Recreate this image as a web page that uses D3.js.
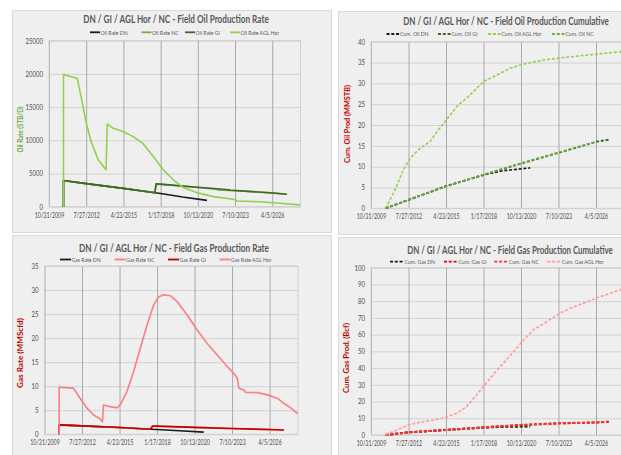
<!DOCTYPE html>
<html>
<head>
<meta charset="utf-8">
<script src="https://cdn.jsdelivr.net/npm/d3@7"></script>
<style>
  html, body { margin: 0; padding: 0; background: #fff; overflow: hidden; }
  svg { display: block; font-family: Lato, "Open Sans", "DejaVu Sans", sans-serif; }
</style>
</head>
<body>
<svg id="chart" width="621" height="455"></svg>
<script>
// ---- shared date axis (major unit 1000 days) ----
const xTickLabels = ["10/31/2009", "7/27/2012", "4/23/2015", "1/17/2018", "10/13/2020", "7/10/2023", "4/5/2026"];
const xDomainLabels = ["10/31/2009", "5/1/2028"];

// ---- y tick values ----
const oilRateTicks = [0, 5000, 10000, 15000, 20000, 25000];
const oilCumTicks = [0, 5, 10, 15, 20, 25, 30, 35, 40];
const gasRateTicks = [0, 5, 10, 15, 20, 25, 30, 35];
const gasCumTicks = [0, 10, 20, 30, 40, 50, 60, 70, 80, 90, 100];

// ---- oil rate, STB/D ----
const oilRateDN = [["2010-11-25", 0], ["2010-11-25", 3950], ["2012-07-27", 3480], ["2015-04-23", 2760], ["2017-08-20", 2100], ["2018-01-17", 1990], ["2019-09-01", 1450], ["2021-06-15", 950]];
const oilRateNC = [["2010-11-25", 0], ["2010-11-25", 3900], ["2012-07-27", 3450], ["2015-04-23", 2730], ["2017-08-01", 2120], ["2017-10-04", 3400], ["2018-01-17", 3360], ["2020-10-13", 2900], ["2022-03-01", 2650], ["2022-04-01", 2520], ["2023-07-10", 2420], ["2026-04-05", 2080], ["2027-04-30", 1880]];
const oilRateGI = [["2010-11-25", 0], ["2010-11-25", 3950], ["2012-07-27", 3480], ["2015-04-23", 2760], ["2017-08-20", 2100], ["2017-09-15", 3450], ["2018-01-17", 3400], ["2020-10-13", 2930], ["2023-02-01", 2560], ["2023-03-01", 2480], ["2023-07-10", 2440], ["2026-04-05", 2060], ["2027-04-30", 1870]];
const oilRateAGL = [["2010-11-25", 0], ["2010-11-25", 19900], ["2011-12-01", 19300], ["2012-03-28", 16100], ["2012-08-09", 12300], ["2012-12-22", 9550], ["2013-06-17", 7050], ["2014-01-10", 5550], ["2014-02-14", 12450], ["2014-07-25", 11800], ["2015-04-20", 11300], ["2016-01-14", 10550], ["2016-10-10", 9450], ["2017-07-05", 7550], ["2018-03-31", 5550], ["2018-12-24", 4050], ["2019-09-19", 2880], ["2020-09-13", 2120], ["2021-12-04", 1520], ["2023-05-25", 1120], ["2023-08-06", 1020], ["2023-09-01", 860], ["2025-05-12", 750], ["2026-11-01", 520], ["2028-04-21", 270]];

// ---- cumulative oil, MMSTB ----
const oilCumDN = [["2010-11-25", 0], ["2012-07-22", 2.0], ["2015-04-19", 5.3], ["2018-01-12", 8.0], ["2019-06-01", 9.0], ["2021-06-15", 9.7]];
const oilCumGI = [["2010-11-25", 0], ["2012-07-22", 2.0], ["2015-04-19", 5.3], ["2018-01-12", 8.0], ["2020-11-01", 10.8], ["2023-07-05", 13.3], ["2026-04-24", 16.0], ["2027-04-01", 16.5]];
const oilCumAGL = [["2010-11-25", 0], ["2011-08-01", 4.4], ["2012-03-10", 9.2], ["2012-09-05", 12.0], ["2013-05-30", 14.4], ["2014-02-20", 16.0], ["2014-09-30", 18.8], ["2015-03-27", 20.8], ["2016-02-02", 24.4], ["2017-01-22", 27.2], ["2018-01-12", 30.4], ["2019-01-05", 32.0], ["2019-12-25", 33.6], ["2020-12-13", 34.6], ["2022-06-01", 35.6], ["2023-11-15", 36.2], ["2026-04-24", 37.0], ["2028-01-06", 37.6], ["2028-05-01", 37.7]];
const oilCumNC = [["2010-11-25", 0], ["2012-07-22", 2.0], ["2015-04-19", 5.2], ["2018-01-12", 8.1], ["2020-11-01", 10.9], ["2023-07-05", 13.4], ["2026-03-01", 15.9]];

// ---- gas rate, MMScfd ----
const gasRateDN = [["2010-11-25", 0], ["2010-11-25", 1.95], ["2012-07-27", 1.75], ["2015-04-23", 1.4], ["2017-08-01", 1.05], ["2018-01-17", 1.0], ["2019-09-01", 0.75], ["2021-06-15", 0.45]];
const gasRateNC = [["2010-11-25", 0], ["2010-11-25", 1.9], ["2012-07-27", 1.72], ["2015-04-23", 1.38], ["2017-07-15", 1.05], ["2017-09-01", 1.68], ["2018-01-17", 1.68], ["2020-10-13", 1.43], ["2023-07-10", 1.18], ["2026-04-05", 0.98], ["2027-04-25", 0.9]];
const gasRateGI = [["2010-11-25", 0], ["2010-11-25", 1.95], ["2012-07-27", 1.75], ["2015-04-23", 1.4], ["2017-08-01", 1.05], ["2017-09-20", 1.72], ["2018-01-17", 1.7], ["2020-10-13", 1.45], ["2023-07-10", 1.2], ["2026-04-05", 1.0], ["2027-04-25", 0.9]];
const gasRateAGL = [["2010-11-25", 0], ["2010-11-25", 9.8], ["2011-12-10", 9.6], ["2012-06-06", 7.5], ["2012-12-02", 5.5], ["2013-05-28", 4.0], ["2013-11-23", 3.2], ["2014-01-23", 2.6], ["2014-02-19", 6.1], ["2014-08-17", 5.75], ["2015-02-12", 5.5], ["2015-05-12", 6.1], ["2015-11-07", 8.9], ["2016-05-01", 13.0], ["2016-10-27", 17.9], ["2017-04-25", 22.7], ["2017-10-18", 26.9], ["2018-03-01", 28.6], ["2018-07-13", 29.0], ["2019-01-09", 28.8], ["2019-07-07", 27.6], ["2020-03-29", 24.8], ["2020-12-22", 21.7], ["2021-09-15", 18.9], ["2022-06-09", 16.5], ["2023-03-04", 14.1], ["2023-10-12", 12.2], ["2023-11-26", 11.6], ["2024-01-08", 9.6], ["2024-05-21", 9.2], ["2024-07-05", 8.7], ["2025-05-14", 8.7], ["2026-02-05", 8.2], ["2026-10-31", 7.5], ["2027-04-25", 6.4], ["2027-10-21", 5.5], ["2028-04-25", 4.3]];

// ---- cumulative gas, Bcf ----
const gasCumDN = [["2010-11-25", 0], ["2012-07-27", 1.6], ["2015-04-23", 3.0], ["2018-01-17", 4.4], ["2019-06-01", 4.8], ["2021-06-15", 5.1]];
const gasCumGI = [["2010-11-25", 0], ["2012-07-27", 1.6], ["2015-04-23", 3.0], ["2018-01-17", 4.6], ["2020-10-13", 6.0], ["2023-07-10", 7.0], ["2026-04-05", 7.5], ["2027-04-25", 8.0]];
const gasCumNC = [["2010-11-25", 0], ["2012-07-27", 1.6], ["2015-04-23", 3.0], ["2018-01-17", 4.5], ["2020-10-13", 5.9], ["2023-07-10", 6.9], ["2026-04-05", 7.5], ["2027-04-25", 8.0]];
const gasCumAGL = [["2010-11-25", 0], ["2011-09-15", 3.0], ["2012-07-22", 6.0], ["2013-05-30", 7.6], ["2014-05-19", 9.0], ["2015-03-27", 10.4], ["2016-02-02", 13.0], ["2016-10-26", 16.9], ["2017-06-04", 22.9], ["2018-01-12", 28.9], ["2018-08-24", 34.9], ["2019-04-02", 40.8], ["2019-11-09", 46.2], ["2020-10-05", 54.8], ["2021-09-06", 62.8], ["2022-08-30", 67.7], ["2023-07-05", 72.3], ["2024-05-12", 75.7], ["2025-05-01", 78.7], ["2026-03-28", 81.7], ["2027-04-14", 84.7], ["2028-01-06", 86.7], ["2028-05-01", 87.3]];

// ---- helpers ----
const parseISO = d3.timeParse("%Y-%m-%d");
const parseMDY = d3.timeParse("%m/%d/%Y");
const fmtMDY = d3.timeFormat("%-m/%-d/%Y");
const xTickDates = xTickLabels.map(parseMDY);
const xDomain = xDomainLabels.map(parseMDY);

const TEXT = "#4d4d4d";
const DASH = "3,1.8";

// squeeze text horizontally by a factor (Calibri-like narrow metrics)
function condense(sel, k) {
  sel.each(function () {
    const w = this.getComputedTextLength();
    d3.select(this).attr("textLength", w * k).attr("lengthAdjust", "spacingAndGlyphs");
  });
}
// draw a centred text inside a horizontally scaled group so it spans width w
function scaledText(parent, x, y, w, str, size, weight, color) {
  const grp = parent.append("g");
  const t = grp.append("text").attr("text-anchor", "middle")
    .attr("fill", color).style("font-size", size + "px").style("font-weight", weight).text(str);
  const k = w / t.node().getComputedTextLength();
  grp.attr("transform", `translate(${x},${y}) scale(${k},1)`);
  return grp;
}

const charts = [
  {
    id: "oilRate",
    panel: [12, 10, 319, 222], plot: [49, 40.7, 300.4, 206.7],
    yMax: 25000, yTicks: oilRateTicks,
    title: "DN / GI / AGL Hor / NC - Field Oil Production Rate", titleX: 176, titleY: 23, titleW: 186,
    yTitle: "Oil Rate (STB/D)", yTitleColor: "#6aab3e", yTitleX: 20, yTitleY: 129.5, yTitleW: 46,
    legendY: 32.3, legendLine: 10,
    series: [
      { name: "Oil Rate DN", data: oilRateDN, color: "#1a1a1a", width: 1.6, lx: 90 },
      { name: "Oil Rate NC", data: oilRateNC, color: "#70ad47", width: 1.6, lx: 141.5 },
      { name: "Oil Rate GI", data: oilRateGI, color: "#3f6b26", width: 1.6, lx: 185 },
      { name: "Oil Rate AGL Hor", data: oilRateAGL, color: "#92d050", width: 1.6, lx: 230 }
    ]
  },
  {
    id: "oilCum",
    panel: [338, 11, 300, 223], plot: [371, 41.7, 624.4, 208.3],
    yMax: 40, yTicks: oilCumTicks,
    title: "DN / GI / AGL Hor / NC - Field Oil Production Cumulative", titleX: 506, titleY: 25, titleW: 206,
    yTitle: "Cum. Oil Prod (MMSTB)", yTitleColor: "#c00000", yTitleX: 347.7, yTitleY: 124, yTitleW: 78,
    legendY: 34, legendLine: 13,
    series: [
      { name: "Cum. Oil DN", data: oilCumDN, color: "#1a1a1a", width: 1.6, dash: DASH, lx: 386.5 },
      { name: "Cum. Oil GI", data: oilCumGI, color: "#3f6b26", width: 1.9, dash: DASH, lx: 438 },
      { name: "Cum. Oil AGL Hor", data: oilCumAGL, color: "#92d050", width: 1.6, dash: DASH, lx: 488 },
      { name: "Cum. Oil NC", data: oilCumNC, color: "#70ad47", width: 1.6, dash: DASH, lx: 552 }
    ]
  },
  {
    id: "gasRate",
    panel: [12, 235, 319, 225], plot: [44.5, 266, 298, 434.3],
    yMax: 35, yTicks: gasRateTicks,
    title: "DN / GI / AGL Hor / NC - Field Gas Production Rate", titleX: 174, titleY: 252.3, titleW: 190,
    yTitle: "Gas Rate (MMScfd)", yTitleColor: "#c00000", yTitleX: 20, yTitleY: 353, yTitleW: 70,
    legendY: 259.5, legendLine: 11,
    series: [
      { name: "Gas Rate DN", data: gasRateDN, color: "#1a1a1a", width: 1.6, lx: 60 },
      { name: "Gas Rate NC", data: gasRateNC, color: "#ff7c80", width: 1.6, lx: 114.5 },
      { name: "Gas Rate GI", data: gasRateGI, color: "#c00000", width: 1.6, lx: 168 },
      { name: "Gas Rate AGL Hor", data: gasRateAGL, color: "#ff7c80", width: 1.6, lx: 219.5 }
    ]
  },
  {
    id: "gasCum",
    panel: [338, 237, 300, 225], plot: [371, 267.7, 624.4, 435],
    yMax: 100, yTicks: gasCumTicks,
    title: "DN / GI / AGL Hor / NC - Field Gas Production Cumulative", titleX: 510, titleY: 254, titleW: 206,
    yTitle: "Cum. Gas Prod. (Bcf)", yTitleColor: "#c00000", yTitleX: 346.7, yTitleY: 358, yTitleW: 70,
    legendY: 261.7, legendLine: 14,
    series: [
      { name: "Cum. Gas DN", data: gasCumDN, color: "#1a1a1a", width: 1.9, dash: DASH, lx: 390 },
      { name: "Cum. Gas GI", data: gasCumGI, color: "#e00000", width: 2.1, dash: DASH, lx: 444 },
      { name: "Cum. Gas NC", data: gasCumNC, color: "#ff3030", width: 1.9, dash: DASH, lx: 494.3 },
      { name: "Cum. Gas AGL Hor", data: gasCumAGL, color: "#ff9a9a", width: 1.6, dash: DASH, lx: 547.3 }
    ]
  }
];

const svg = d3.select("#chart");
svg.append("rect").attr("width", 621).attr("height", 455).attr("fill", "#ffffff");

charts.forEach(c => {
  const [px, py, pw, ph] = c.panel;
  const [x0, y0, x1, y1] = c.plot;
  const g = svg.append("g").attr("class", "panel " + c.id);

  g.append("rect").attr("x", px + 0.5).attr("y", py + 0.5).attr("width", pw).attr("height", ph)
    .attr("fill", "#efefef").attr("stroke", "#d9d9d9");

  const x = d3.scaleTime().domain(xDomain).range([x0, x1]);
  const y = d3.scaleLinear().domain([0, c.yMax]).range([y1, y0]);

  // horizontal gridlines
  g.append("g").attr("transform", `translate(${x0},0)`)
    .call(d3.axisLeft(y).tickValues(c.yTicks).tickSize(-(x1 - x0)).tickFormat(""))
    .call(s => { s.select(".domain").remove(); s.selectAll("line").attr("stroke", "#d2d2d2").attr("stroke-width", 1); });

  // vertical gridlines
  g.append("g").attr("transform", `translate(0,${y1})`)
    .call(d3.axisBottom(x).tickValues(xTickDates).tickSize(-(y1 - y0)).tickFormat(""))
    .call(s => { s.select(".domain").remove(); s.selectAll("line").attr("stroke", "#a9a9a9").attr("stroke-width", 1); });

  // plot frame
  g.append("rect").attr("x", x0).attr("y", y0).attr("width", x1 - x0).attr("height", y1 - y0)
    .attr("fill", "none").attr("stroke", "#cfcfcf");

  // series
  const clipId = "clip-" + c.id;
  g.append("clipPath").attr("id", clipId).append("rect")
    .attr("x", x0 - 2).attr("y", y0 - 2).attr("width", x1 - x0 + 4).attr("height", y1 - y0 + 4);
  const line = d3.line().x(d => x(parseISO(d[0]))).y(d => y(d[1]));
  const lines = g.append("g").attr("clip-path", `url(#${clipId})`);
  c.series.forEach(s => {
    lines.append("path").datum(s.data).attr("d", line)
      .attr("fill", "none").attr("stroke", s.color).attr("stroke-width", s.width)
      .attr("stroke-dasharray", s.dash || null).attr("stroke-linejoin", "round");
  });

  // x axis labels
  const gx = g.append("g").attr("transform", `translate(0,${y1})`)
    .call(d3.axisBottom(x).tickValues(xTickDates).tickFormat(fmtMDY).tickSize(0).tickPadding(6));
  gx.select(".domain").remove();
  gx.selectAll("text").attr("fill", TEXT).style("font-size", "7.2px").style("font-family", "Lato, sans-serif")
    .call(condense, 0.74);

  // y axis labels
  const gy = g.append("g").attr("transform", `translate(${x0},0)`)
    .call(d3.axisLeft(y).tickValues(c.yTicks).tickFormat(d3.format("d")).tickSize(0).tickPadding(6));
  gy.select(".domain").remove();
  gy.selectAll("text").attr("fill", TEXT).style("font-size", "7.2px").style("font-family", "Lato, sans-serif")
    .call(condense, 0.84);

  // title
  scaledText(g, c.titleX, c.titleY, c.titleW, c.title, 11, 700, "#595959");

  // y axis title
  const yt = g.append("g").attr("transform", `translate(${c.yTitleX},${c.yTitleY}) rotate(-90)`);
  scaledText(yt, 0, 2.6, c.yTitleW, c.yTitle, 7.4, 700, c.yTitleColor);

  // legend
  const lg = g.append("g");
  c.series.forEach(s => {
    lg.append("line").attr("x1", s.lx).attr("x2", s.lx + c.legendLine)
      .attr("y1", c.legendY).attr("y2", c.legendY)
      .attr("stroke", s.color).attr("stroke-width", 1.8)
      .attr("stroke-dasharray", s.dash || null);
    lg.append("text").attr("x", s.lx + c.legendLine + 0.5).attr("y", c.legendY).attr("dy", "0.35em")
      .attr("fill", "#595959").style("font-size", "6.4px").text(s.name)
      .call(condense, 0.8);
  });
});
</script>
</body>
</html>
